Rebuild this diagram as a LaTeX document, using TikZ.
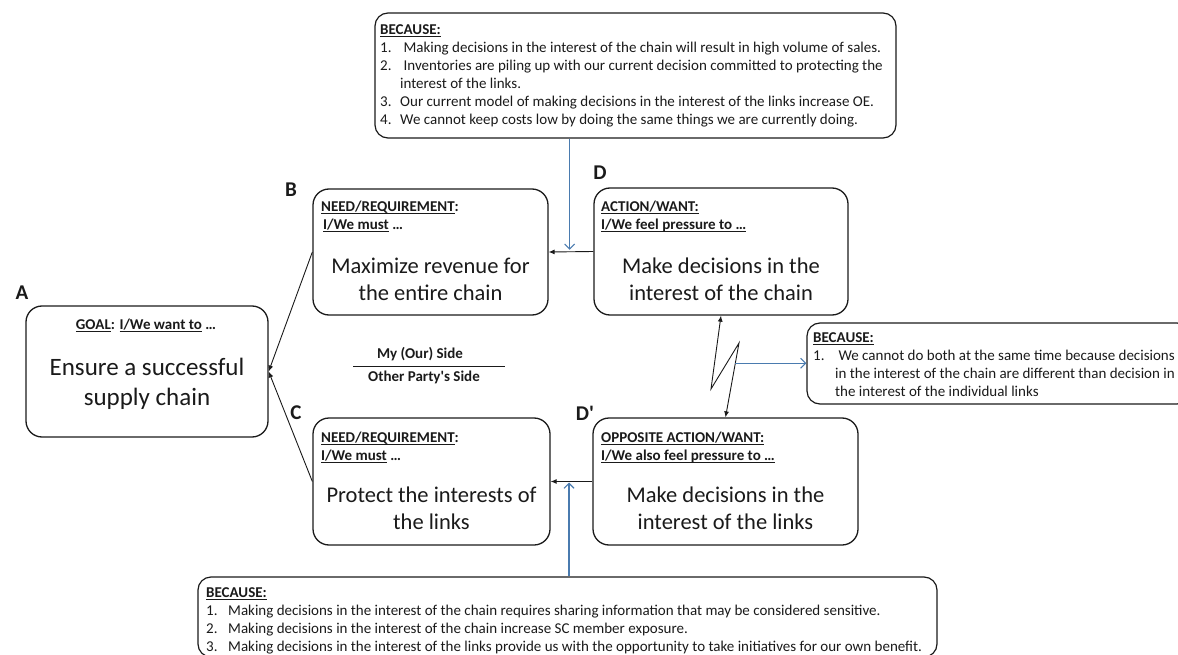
\documentclass[tikz,border=0pt]{standalone}
\usepackage{fontspec}
\setmainfont{Carlito}[Ligatures=TeXOff]
\newsavebox\ulbox
\newcommand\uln[1]{\sbox\ulbox{#1}\rlap{\rule[-2.4pt]{\wd\ulbox}{0.9pt}}\usebox\ulbox}
\usetikzlibrary{arrows.meta,calc}
\definecolor{bluearrow}{HTML}{4A7BAF}
\definecolor{ink}{HTML}{1A1A1A}
\begin{document}
\begin{tikzpicture}[x=1pt,y=-1pt,
  box/.style={draw=ink, line width=1.3pt, rounded corners=16pt, inner sep=0pt},
  becbox/.style={draw=ink, line width=1.2pt, rounded corners=13pt, inner sep=0pt},
  small/.style={font=\fontsize{15}{18}\selectfont, text=ink, inner sep=0pt},
  smallb/.style={font=\fontsize{15}{18}\selectfont\bfseries, text=ink, inner sep=0pt},
  big/.style={font=\fontsize{22.5}{27}\selectfont, text=ink, inner sep=0pt, align=center},
  bigA/.style={font=\fontsize{25}{30}\selectfont, text=ink, inner sep=0pt, align=center},
  lbl/.style={font=\fontsize{21}{24}\selectfont\bfseries, text=ink, inner sep=0pt},
  conn/.style={draw=ink, line width=0.9pt, -{Latex[length=6pt,width=5pt]}},
  bluec/.style={draw=bluearrow, line width=1.1pt, -{Straight Barb[length=5pt,width=10pt]}},
]
\useasboundingbox (0,0) rectangle (1178,655);

% main boxes
\node[box, minimum width=242pt, minimum height=131pt] (A) at (147,371.5) {};
\node[box, minimum width=235pt, minimum height=126pt] (B) at (430.5,252) {};
\node[box, minimum width=254pt, minimum height=127pt] (D) at (721,251.5) {};
\node[box, minimum width=237pt, minimum height=127pt] (C) at (431.5,481.5) {};
\node[box, minimum width=265pt, minimum height=127pt] (Dp) at (725.5,481.5) {};

% because boxes
\node[becbox, minimum width=521pt, minimum height=125pt] (tb) at (635.5,75.5) {};
\node[becbox, minimum width=383pt, minimum height=81pt] (rb) at (998.5,363.5) {};
\node[becbox, minimum width=739pt, minimum height=80pt] (bb) at (567.5,617) {};

% labels
\node[lbl] (la) at (22,293) {A};
\node[lbl] (lb) at (291,190) {B};
\node[lbl] (ld) at (600,173) {D};
\node[lbl] (lc) at (296,413) {C};
\node[lbl] (ldp) at (585,413) {D'};

% A text
\node[smallb, anchor=base] (Ah) at (146,329) {\uln{GOAL}: \uln{I/We want to} …};
\node[bigA, anchor=north] (Ab) at (147,354) {\strut Ensure a successful\\supply chain};

% B text
\node[smallb, anchor=north west, align=left] (Bh) at (321,198.4) {\strut\uln{NEED/REQUIREMENT}:\\\hspace*{2pt}\uln{I/We must} …};
\node[big, anchor=north] (Bb) at (430.5,254.6) {\strut Maximize revenue for\\the entire chain};

% D text
\node[smallb, anchor=north west, align=left] (Dh) at (601,198.4) {\strut\uln{ACTION/WANT:}\\\uln{I/We feel pressure to …}};
\node[big, anchor=north] (Db) at (721,254.6) {\strut Make decisions in the\\interest of the chain};

% C text
\node[smallb, anchor=north west, align=left] (Ch) at (321,429.4) {\strut\uln{NEED/REQUIREMENT}:\\\uln{I/We must} …};
\node[big, anchor=north] (Cb) at (431.5,483.6) {\strut Protect the interests of\\the links};

% D' text
\node[smallb, anchor=north west, align=left] (Dph) at (601,429.4) {\strut\uln{OPPOSITE ACTION/WANT:}\\\uln{I/We also feel pressure to …}};
\node[big, anchor=north] (Dpb) at (725.5,483.6) {\strut Make decisions in the\\interest of the links};

% side divider
\node[smallb, anchor=base] (my) at (420,358) {My (Our) Side};
\node[smallb, anchor=base] (other) at (424,381) {Other Party's Side};
\draw[ink, line width=1pt] (353,366) -- (505,366);

% top because text
\node[small, anchor=north west, align=left] (tbt) at (380,21.4) {%
\strut\textbf{\uln{BECAUSE:}}\\
\makebox[20pt][l]{1.}\ Making decisions in the interest of the chain will result in high volume of sales.\\
\makebox[20pt][l]{2.}\ Inventories are piling up with our current decision committed to protecting the\\
\hspace*{20pt}interest of the links.\\
\makebox[20pt][l]{3.}Our current model of making decisions in the interest of the links increase OE.\\
\makebox[20pt][l]{4.}We cannot keep costs low by doing the same things we are currently doing.};

% right because text
\node[small, anchor=north west, align=left] (rbt) at (813,329.4) {%
\strut\textbf{\uln{BECAUSE:}}\\
\makebox[22pt][l]{1.}\ We cannot do both at the same time because decisions\\
\hspace*{22pt}in the interest of the chain are different than decision in\\
\hspace*{22pt}the interest of the individual links};

% bottom because text
\node[small, anchor=north west, align=left] (bbt) at (206,584.4) {%
\strut\textbf{\uln{BECAUSE:}}\\
\makebox[22pt][l]{1.}Making decisions in the interest of the chain requires sharing information that may be considered sensitive.\\
\makebox[22pt][l]{2.}Making decisions in the interest of the chain increase SC member exposure.\\
\makebox[22pt][l]{3.}Making decisions in the interest of the links provide us with the opportunity to take initiatives for our own benefit.};

% connectors
\draw[conn] (B.west) -- (A.east);
\draw[conn] (C.west) -- (A.east);
\draw[conn] (D.west) -- (B.east);
\draw[conn] (Dp.west) -- (C.east);

% conflict lightning
\coordinate (z1) at (711,389);
\coordinate (z2) at (739,343);
\draw[ink, line width=0.9pt, {Latex[length=6pt,width=5pt]}-{Latex[length=6pt,width=5pt]}] (D.south) -- (z1) -- (z2) -- (Dp.north);
\coordinate (zm) at ($(z2)!0.273!(Dp.north)$);
\draw[bluec] (zm) -- (zm -| rb.west);

% assumption arrows
\coordinate (h1) at ($(B.east)!0.47!(D.west)$);
\draw[bluec, shorten >=2pt] (h1 |- tb.south) -- (h1);
\coordinate (h2) at ($(C.east)!0.44!(Dp.west)$);
\draw[bluec, shorten >=1pt] (h2 |- bb.north) -- (h2);
\end{tikzpicture}
\end{document}
